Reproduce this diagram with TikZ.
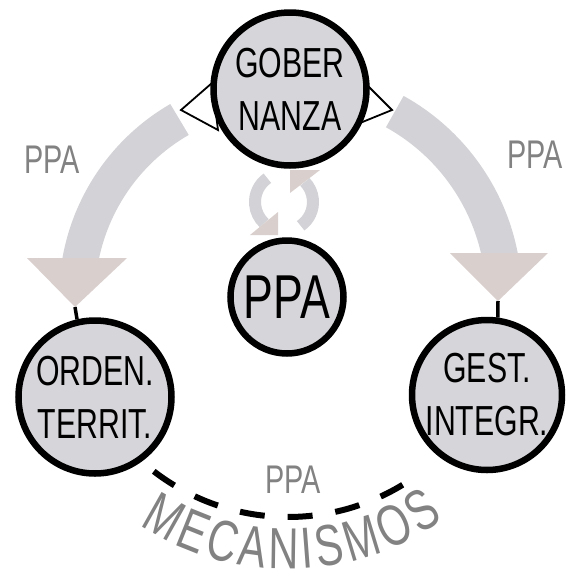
\documentclass[tikz,border=0pt]{standalone}
\usepackage{fontspec}
\setmainfont[FakeStretch=0.72]{Liberation Sans}
\newfontfamily\arcfont[FakeStretch=0.72]{Liberation Sans}
\usetikzlibrary{decorations.text}

\definecolor{discfill}{RGB}{214,214,218}
\definecolor{bandgray}{RGB}{211,211,215}
\definecolor{headgray}{RGB}{217,207,204}
\definecolor{labelgray}{RGB}{130,130,130}

\tikzset{
    disc/.style={circle, draw=black, line width=6.5pt, fill=discfill, inner sep=0pt, align=center,
        font=\fontsize{42}{53}\selectfont},
    band/.style={draw=bandgray, line width=36pt},
    swirl/.style={draw=bandgray, line width=12pt},
    head/.style={fill=headgray},
    stub/.style={line width=3.5pt},
    flap/.style={draw=black, fill=white, line width=1.8pt},
    lbl/.style={text=labelgray, font=\fontsize{40}{40}\selectfont},
}

\def\R{272}

\begin{document}
\begin{tikzpicture}[x=1pt, y=-1pt]
    \useasboundingbox (0,0) rectangle (568,579);

    \coordinate (hub) at (288,297);
    \coordinate (sync) at (284,202);

    \draw[band] (282,297) ++(-120:205) arc[start angle=-120, end angle=-172, radius=205];
    \draw[band] (292,297) ++(-61:212) arc[start angle=-61, end angle=-8, radius=212];
    \fill[head] (27,258) -- (127,258) -- (75,307) coordinate (lefttip) -- cycle;
    \fill[head] (450,253) -- (548,253) -- (498,301) coordinate (righttip) -- cycle;

    \draw[flap] (181,110) -- (212,83) -- (218,130) -- cycle;
    \draw[flap] (392,110) -- (365,83) -- (360,123) -- cycle;

    \node[disc, minimum size=153pt] (gober) at (290,89) {GOBER\\NANZA};
    \node[disc, minimum size=113pt, font=\fontsize{62}{62}\selectfont] (ppa) at (287,297) {PPA};
    \node[disc, minimum size=153pt] (orden) at (95,397) {ORDEN.\\TERRIT.};
    \node[disc, minimum size=150pt] (gest) at (487,395) {GEST.\\INTEGR.};

    \draw[stub] (lefttip) -- (orden.103);
    \draw[stub] (righttip) -- (gest.82);

    \draw[swirl] (sync) ++(-125:29) arc[start angle=-125, end angle=-227, radius=29];
    \draw[swirl] (sync) ++(55:29) arc[start angle=55, end angle=-44, radius=29];
    \fill[head] (250,235) -- (278,235) -- (278,212) -- cycle;
    \fill[head] (290,170) -- (320,170) -- (290,193) -- cycle;

    \node[lbl] (ppaleft) at (52,160) {PPA};
    \node[lbl] (pparight) at (535,155) {PPA};
    \node[lbl] (ppabottom) at (293,480) {PPA};

    \draw[line width=6pt, dash pattern=on 25pt off 23pt] (hub) ++(-232.4:220) arc[start angle=-232.4, end angle=-305, radius=220];
    \path[decorate, decoration={text along path, text align=fit to path, text color=labelgray,
        text={|\arcfont\fontsize{58}{58}\selectfont|MECANISMOS}}]
        (hub) ++(-237:\R) arc[start angle=-237, end angle=-305, radius=\R];
\end{tikzpicture}
\end{document}
